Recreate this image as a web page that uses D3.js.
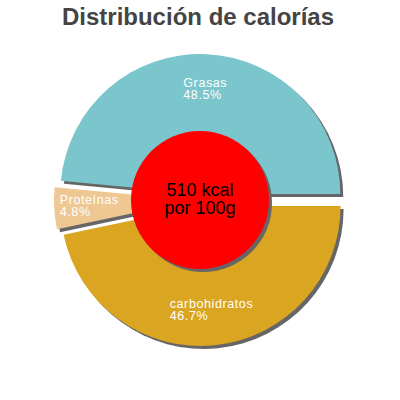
<!DOCTYPE html>
<html>
<head>
<meta charset="utf-8">
<script src="https://cdn.jsdelivr.net/npm/d3@7"></script>
<style>
  html, body { margin: 0; padding: 0; background: #fff; }
  svg { display: block; font-family: "Liberation Sans", Arial, sans-serif; }
</style>
</head>
<body>
<div id="chart"></div>
<script>
// datos del gráfico
const title = "Distribución de calorías";
const categories = ["Grasas", "Proteínas", "carbohidratos"];
const percents = [48.5, 4.8, 46.7];
const colors = ["#7bc5cc", "#efc793", "#daa520"];
const centerLines = ["510 kcal", "por 100g"];

const width = 400, height = 400;
const cx = 200, cy = 200;
const radius = 140, explode = 6, innerR = 69;

const svg = d3.select("#chart").append("svg")
  .attr("width", width)
  .attr("height", height);

// título
svg.append("text")
  .attr("x", 198)
  .attr("y", 25)
  .attr("text-anchor", "middle")
  .attr("font-size", 24)
  .attr("font-weight", "bold")
  .attr("fill", "#444")
  .text(title);

// empieza a las 3 y gira en sentido antihorario
const pie = d3.pie()
  .sort(null)
  .startAngle(Math.PI / 2)
  .endAngle(Math.PI / 2 - 2 * Math.PI);

const arcs = pie(percents);
const arc = d3.arc().innerRadius(0).outerRadius(radius);
const labelArc = d3.arc().innerRadius(radius * 0.75).outerRadius(radius * 0.75);

function offset(d) {
  const mid = (d.startAngle + d.endAngle) / 2;
  return [Math.sin(mid) * explode, -Math.cos(mid) * explode];
}

const g = svg.append("g").attr("transform", `translate(${cx},${cy})`);

// sombras
g.selectAll("path.shadow")
  .data(arcs)
  .enter().append("path")
  .attr("class", "shadow")
  .attr("d", arc)
  .attr("fill", "#666")
  .attr("transform", d => {
    const o = offset(d);
    return `translate(${o[0] + 3},${o[1] + 3})`;
  });

// porciones
g.selectAll("path.slice")
  .data(arcs)
  .enter().append("path")
  .attr("class", "slice")
  .attr("d", arc)
  .attr("fill", (d, i) => colors[i])
  .attr("transform", d => {
    const o = offset(d);
    return `translate(${o[0]},${o[1]})`;
  });

// etiquetas
arcs.forEach((d, i) => {
  const o = offset(d);
  const c = labelArc.centroid(d);
  const px = c[0] + o[0], py = c[1] + o[1];
  const t = g.append("text")
    .attr("fill", "#fff")
    .attr("font-size", 12.5)
    .attr("letter-spacing", 0.6);
  const l1 = t.append("tspan").attr("y", py - 2).text(categories[i]);
  const l2 = t.append("tspan").attr("y", py + 10).text(percents[i].toFixed(1) + "%");
  const w = Math.max(l1.node().getComputedTextLength(), l2.node().getComputedTextLength());
  l1.attr("x", px - w / 2);
  l2.attr("x", px - w / 2);
});

// círculo central
g.append("circle")
  .attr("cx", 3).attr("cy", 3)
  .attr("r", innerR)
  .attr("fill", "#666");
g.append("circle")
  .attr("r", innerR)
  .attr("fill", "#ff0000");

g.selectAll("text.center")
  .data(centerLines)
  .enter().append("text")
  .attr("class", "center")
  .attr("x", 0)
  .attr("y", (d, i) => -4 + i * 18)
  .attr("text-anchor", "middle")
  .attr("font-size", 18)
  .attr("fill", "#000")
  .text(d => d);
</script>
</body>
</html>
